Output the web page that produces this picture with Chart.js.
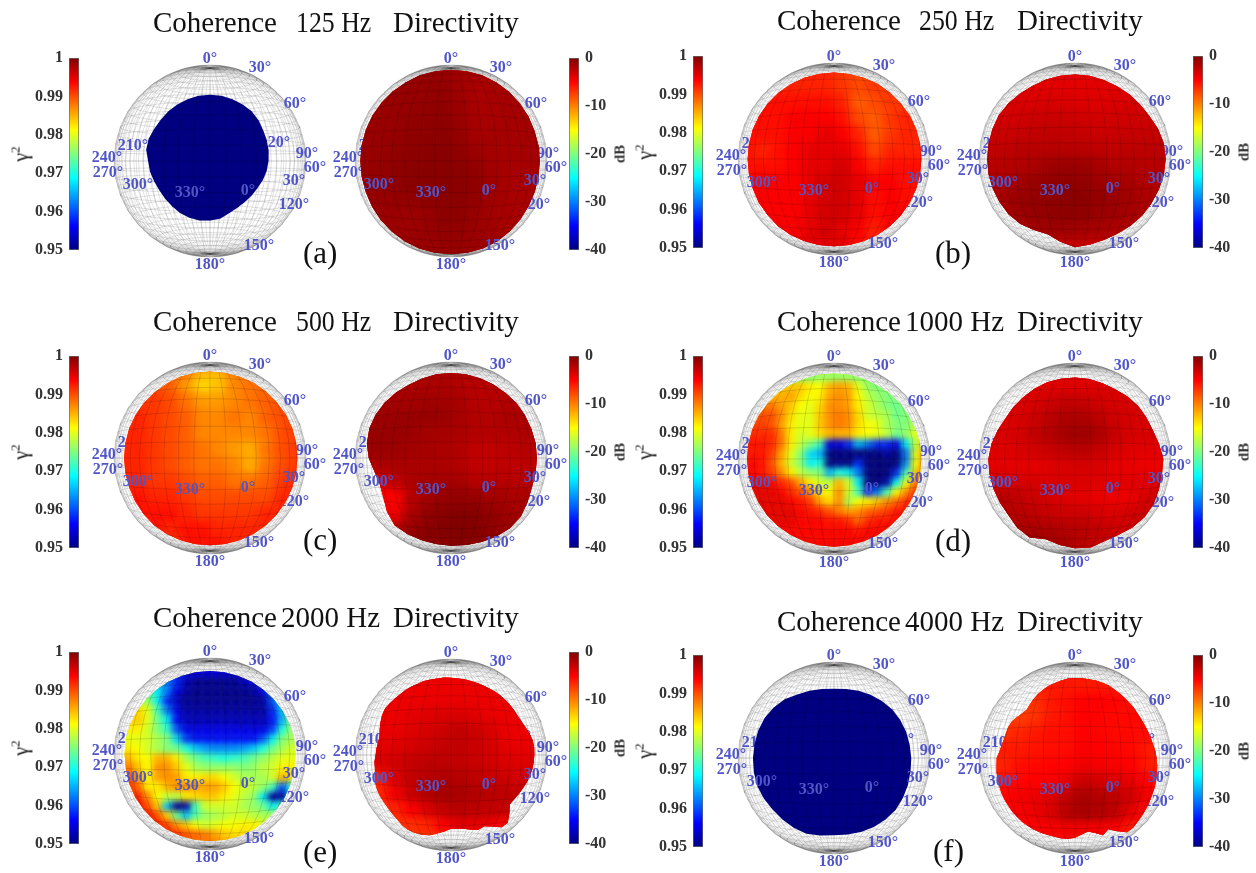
<!DOCTYPE html>
<html>
<head>
<meta charset="utf-8">
<title>Coherence and Directivity</title>
<script src="https://cdn.jsdelivr.net/npm/chart.js@4"></script>
<style>
  html, body { margin: 0; background: #fff; }
  body { position: relative; width: 1256px; height: 873px; overflow: hidden; font-family: "Liberation Serif", serif; }
  canvas { position: absolute; }
  .title, .letter, .cbname { position: absolute; white-space: pre; color: #111; }
  .title { font-size: 29px; line-height: 32px; }
  .title.short { transform: scaleX(0.89); transform-origin: left center; }
  .letter { font-size: 31px; line-height: 34px; }
  .cbname { transform: translate(-50%, -50%) rotate(-90deg); }
  .gamma { font-size: 20px; }
  .gamma sup { font-size: 13px; line-height: 0; }
  .db { font-size: 15px; font-weight: bold; color: #333; }
</style>
</head>
<body>
<script>
/* --------------------------------------------
   DATA: CATEGORIES AND TICKS
--------------------------------------------- */
const frequencies = ["125 Hz", "250 Hz", "500 Hz", "1000 Hz", "2000 Hz", "4000 Hz"];
const panelLetters = ["(a)", "(b)", "(c)", "(d)", "(e)", "(f)"];
const coherenceTicks = [0.95, 0.96, 0.97, 0.98, 0.99, 1];
const directivityTicks = [-40, -30, -20, -10, 0];
const sphereLabels = ["0°", "30°", "60°", "150°", "180°", "300°", "330°", "0°", "30°", "210°", "240°", "270°", "90°", "60°", "120°", "120°"];

/* --------------------------------------------
   DATA: SURFACE OUTLINES (radius, clockwise from the top)
--------------------------------------------- */
const outline125Coh = [.69,.69,.685,.68,.675,.66,.64,.63,.62,.61,.60,.585,.57,.565,.56,.565,.58,.61,.62,.63,.63,.625,.615,.61,.61,.62,.635,.645,.675,.68,.67,.67,.675,.68,.685,.69];
const outline125Dir = [.95,.95,.95,.945,.94,.935,.93,.925,.925,.925,.925,.93,.935,.945,.955,.965,.97,.97,.97,.97,.97,.965,.96,.955,.95,.945,.945,.945,.945,.945,.945,.945,.945,.945,.95,.95];
const outline250Coh = [.90,.90,.90,.905,.905,.905,.91,.91,.91,.91,.91,.91,.91,.91,.91,.91,.91,.91,.91,.91,.91,.91,.91,.905,.905,.90,.90,.90,.90,.90,.90,.90,.90,.90,.90,.90];
const outline250Dir = [.88,.88,.875,.875,.88,.885,.895,.92,.94,.945,.94,.93,.92,.915,.905,.895,.895,.905,.92,.875,.835,.855,.885,.90,.905,.91,.915,.915,.915,.915,.915,.905,.89,.88,.88,.88];
const outline500Coh = [.90,.90,.90,.905,.905,.905,.91,.91,.91,.91,.91,.91,.91,.91,.91,.91,.91,.91,.91,.91,.91,.91,.91,.905,.90,.895,.895,.895,.895,.895,.895,.895,.895,.895,.90,.90];
const outline500Dir = [.885,.885,.885,.885,.885,.89,.89,.89,.895,.895,.895,.897,.92,.95,.955,.945,.93,.92,.913,.91,.91,.913,.915,.87,.815,.79,.81,.857,.89,.905,.905,.90,.89,.88,.88,.885];
const outline1000Coh = [.89,.89,.89,.89,.895,.90,.90,.905,.91,.91,.91,.91,.91,.91,.912,.913,.913,.913,.913,.913,.913,.912,.91,.91,.908,.906,.906,.906,.906,.906,.905,.90,.90,.895,.89,.89];
const outline1000Dir = [.85,.845,.84,.84,.85,.86,.86,.865,.89,.92,.92,.93,.945,.945,.93,.91,.91,.935,.93,.91,.89,.945,.935,.907,.905,.904,.905,.903,.885,.86,.84,.84,.84,.845,.85,.85];
const outline2000Coh = [.865,.865,.865,.87,.87,.875,.88,.885,.89,.89,.89,.895,.90,.90,.905,.905,.906,.906,.906,.906,.906,.905,.905,.90,.90,.895,.89,.89,.89,.885,.88,.875,.87,.87,.865,.865];
const outline2000Dir = [.805,.80,.80,.797,.797,.80,.80,.803,.806,.806,.806,.806,.806,.815,.83,.85,.865,.87,.868,.865,.86,.85,.84,.825,.815,.805,.80,.86,.92,.92,.86,.82,.83,.805,.78,.77,.767,.80,.83,.865,.885,.895,.90,.89,.875,.865,.857,.855,.855,.85,.84,.82,.805,.80,.785,.78,.77,.77,.79,.81,.83,.84,.835,.83,.825,.825,.825,.82,.82,.815,.81,.81];
const outline4000Coh = [.722,.73,.745,.76,.775,.79,.795,.80,.80,.805,.81,.82,.83,.84,.835,.83,.82,.81,.805,.82,.84,.84,.835,.835,.845,.85,.848,.844,.84,.84,.835,.82,.80,.765,.745,.73];
const outline4000Dir = [.833,.833,.833,.835,.835,.832,.825,.818,.812,.808,.805,.80,.80,.803,.81,.817,.825,.84,.85,.86,.868,.875,.885,.89,.90,.91,.92,.93,.945,.945,.88,.82,.855,.81,.777,.80,.83,.845,.85,.847,.85,.857,.86,.862,.862,.86,.86,.855,.852,.848,.84,.835,.83,.82,.816,.79,.775,.765,.765,.767,.76,.74,.72,.712,.73,.75,.77,.785,.80,.81,.82,.83];

/* --------------------------------------------
   DATA: COHERENCE VALUES (rows from the top)
--------------------------------------------- */
const coherence250 = [
  [.992,.992,.992,.992,.992,.992,.991,.990,.990,.990,.990,.990],
  [.992,.992,.992,.992,.992,.992,.991,.990,.991,.991,.991,.991],
  [.993,.993,.993,.993,.993,.993,.992,.989,.990,.991,.991,.991],
  [.993,.993,.993,.994,.994,.994,.993,.990,.989,.991,.992,.992],
  [.993,.993,.993,.994,.994,.995,.994,.992,.989,.991,.992,.992],
  [.993,.992,.993,.994,.995,.995,.995,.993,.990,.992,.992,.992],
  [.993,.993,.993,.994,.995,.995,.996,.994,.992,.993,.993,.993],
  [.994,.994,.994,.994,.995,.996,.996,.995,.994,.994,.993,.993],
  [.994,.994,.994,.994,.995,.996,.996,.995,.993,.994,.993,.993],
  [.994,.994,.994,.994,.995,.996,.996,.995,.993,.994,.994,.994],
  [.994,.994,.994,.994,.995,.996,.995,.994,.992,.994,.994,.994],
  [.994,.994,.994,.994,.995,.995,.995,.993,.992,.994,.994,.994]
];
const coherence500 = [
  [.988,.988,.988,.988,.988,.985,.985,.988,.988,.988,.988,.988],
  [.991,.991,.990,.989,.986,.983,.984,.987,.988,.989,.990,.990],
  [.991,.991,.991,.990,.988,.986,.986,.987,.988,.989,.990,.990],
  [.992,.992,.991,.990,.989,.987,.987,.988,.987,.989,.990,.991],
  [.992,.992,.991,.990,.989,.987,.987,.987,.987,.988,.990,.991],
  [.992,.992,.991,.990,.989,.988,.987,.986,.985,.988,.990,.991],
  [.992,.992,.991,.990,.989,.988,.988,.987,.985,.988,.990,.991],
  [.992,.992,.991,.991,.990,.989,.989,.988,.988,.989,.991,.992],
  [.992,.993,.992,.992,.991,.990,.990,.990,.990,.990,.992,.992],
  [.992,.993,.993,.993,.992,.991,.991,.991,.991,.992,.992,.992],
  [.992,.992,.993,.992,.993,.993,.992,.992,.992,.992,.992,.992],
  [.992,.992,.992,.991,.993,.993,.993,.992,.992,.992,.992,.992]
];
const coherence1000 = [
  [.978,.978,.978,.978,.978,.978,.978,.978,.978,.978,.978,.978,.978,.978,.978,.978,.978,.978,.978,.978],
  [.975,.975,.975,.975,.975,.975,.975,.975,.976,.976,.976,.976,.975,.975,.975,.975,.975,.975,.975,.975],
  [.984,.984,.984,.984,.984,.984,.984,.982,.981,.985,.986,.985,.980,.976,.975,.975,.975,.975,.975,.975],
  [.985,.985,.985,.985,.985,.986,.983,.981,.982,.986,.987,.986,.981,.978,.976,.975,.975,.975,.975,.975],
  [.988,.988,.988,.988,.986,.984,.981,.980,.983,.987,.987,.986,.982,.979,.977,.975,.974,.975,.975,.975],
  [.990,.990,.990,.990,.987,.983,.980,.980,.984,.987,.988,.987,.983,.979,.978,.977,.974,.975,.976,.976],
  [.991,.991,.991,.990,.986,.982,.980,.980,.984,.987,.988,.987,.983,.981,.980,.977,.975,.975,.978,.978],
  [.992,.992,.992,.992,.988,.982,.979,.980,.983,.985,.985,.985,.982,.981,.980,.978,.974,.976,.980,.980],
  [.993,.993,.993,.992,.988,.982,.978,.975,.972,.955,.955,.958,.965,.962,.958,.958,.955,.968,.978,.985],
  [.993,.993,.993,.991,.986,.980,.975,.967,.965,.950,.950,.950,.950,.950,.950,.952,.950,.962,.980,.988],
  [.993,.994,.993,.990,.985,.979,.975,.968,.970,.950,.951,.950,.958,.950,.950,.950,.950,.963,.981,.989],
  [.994,.994,.993,.991,.987,.982,.978,.976,.975,.965,.970,.968,.962,.950,.950,.950,.958,.972,.984,.990],
  [.995,.995,.995,.994,.992,.990,.986,.982,.979,.978,.985,.979,.968,.950,.950,.952,.968,.980,.988,.992],
  [.995,.995,.995,.995,.994,.992,.990,.987,.982,.981,.987,.979,.972,.958,.962,.972,.981,.987,.992,.992],
  [.995,.995,.995,.995,.995,.994,.993,.991,.986,.983,.987,.977,.981,.982,.984,.987,.989,.992,.993,.993],
  [.995,.995,.995,.995,.995,.995,.994,.993,.992,.990,.988,.986,.987,.989,.990,.991,.993,.993,.993,.993],
  [.995,.995,.995,.995,.995,.995,.994,.994,.994,.993,.993,.992,.989,.992,.993,.993,.994,.994,.994,.994],
  [.994,.994,.994,.994,.994,.994,.994,.994,.994,.994,.994,.994,.993,.994,.994,.994,.994,.994,.994,.994],
  [.994,.994,.994,.994,.994,.994,.994,.994,.994,.994,.994,.994,.994,.994,.994,.994,.994,.994,.994,.994],
  [.994,.994,.994,.994,.994,.994,.994,.994,.994,.994,.994,.994,.994,.994,.994,.994,.994,.994,.994,.994]
];
const coherence2000 = [
  [.955,.955,.955,.955,.955,.955,.955,.955,.955,.955,.955,.955,.955,.955,.955,.955,.955,.955,.955,.955],
  [.955,.955,.955,.955,.955,.955,.955,.955,.955,.955,.955,.955,.955,.955,.955,.955,.955,.955,.955,.955],
  [.962,.962,.962,.962,.962,.962,.958,.953,.951,.951,.951,.951,.951,.953,.955,.960,.960,.960,.960,.960],
  [.972,.972,.972,.972,.968,.962,.955,.952,.951,.951,.951,.951,.951,.951,.952,.955,.962,.968,.970,.970],
  [.978,.978,.978,.976,.968,.958,.953,.951,.951,.951,.951,.951,.951,.951,.951,.952,.960,.968,.972,.972],
  [.983,.983,.983,.980,.972,.962,.955,.952,.952,.952,.952,.952,.952,.952,.952,.952,.958,.966,.974,.974],
  [.983,.983,.984,.980,.974,.968,.956,.953,.953,.953,.953,.953,.953,.953,.953,.953,.957,.965,.975,.975],
  [.982,.982,.982,.979,.975,.971,.960,.955,.955,.955,.955,.955,.955,.955,.955,.955,.959,.970,.976,.976],
  [.980,.980,.980,.979,.977,.975,.967,.959,.957,.957,.957,.957,.957,.957,.957,.960,.968,.975,.977,.978],
  [.982,.982,.981,.979,.977,.975,.974,.970,.966,.964,.963,.963,.963,.964,.966,.970,.974,.977,.979,.979],
  [.985,.985,.982,.981,.985,.985,.982,.977,.974,.972,.971,.970,.971,.972,.974,.976,.978,.980,.980,.980],
  [.988,.988,.984,.981,.987,.987,.984,.980,.977,.976,.976,.976,.976,.975,.976,.978,.979,.982,.982,.982],
  [.990,.990,.986,.981,.986,.987,.986,.982,.982,.983,.983,.981,.979,.977,.977,.977,.979,.985,.983,.983],
  [.992,.992,.989,.982,.982,.985,.987,.987,.986,.986,.986,.984,.981,.979,.978,.976,.972,.960,.970,.970],
  [.992,.992,.992,.987,.981,.978,.978,.982,.983,.984,.984,.982,.980,.978,.976,.968,.952,.952,.968,.968],
  [.994,.994,.994,.990,.984,.966,.951,.952,.972,.979,.979,.979,.979,.977,.976,.974,.968,.972,.972,.972],
  [.994,.994,.994,.994,.990,.984,.974,.966,.973,.976,.977,.978,.979,.979,.978,.977,.977,.977,.977,.977],
  [.994,.994,.994,.994,.993,.991,.987,.984,.981,.979,.980,.981,.981,.982,.982,.980,.980,.980,.980,.980],
  [.994,.994,.994,.994,.994,.993,.992,.990,.989,.988,.986,.984,.983,.983,.982,.982,.982,.982,.982,.982],
  [.992,.992,.992,.992,.992,.992,.992,.990,.988,.988,.988,.986,.986,.986,.986,.986,.986,.986,.986,.986]
];

/* --------------------------------------------
   DATA: DIRECTIVITY VALUES IN dB (rows from the top)
--------------------------------------------- */
const directivity125 = [
  [-1,-1,-1,-1,-1,-1,-1.4,-1.6,-1.6,-1.6,-1.6,-1.6],
  [-1,-1,-1,-1,-.9,-.8,-1.3,-1.7,-1.7,-1.6,-1.6,-1.6],
  [-1.1,-1.1,-1,-.9,-.8,-.7,-1.1,-1.7,-1.6,-1.6,-1.6,-1.6],
  [-1.1,-1.1,-1,-.8,-.7,-.6,-1,-1.6,-1.6,-1.5,-1.5,-1.5],
  [-1.1,-1,-.9,-.7,-.6,-.5,-.9,-1.5,-1.5,-1.5,-1.5,-1.5],
  [-1.1,-1,-.8,-.6,-.5,-.4,-.7,-1.1,-1.5,-1.5,-1.5,-1.5],
  [-1.1,-.9,-.7,-.5,-.4,-.4,-.5,-.8,-1.4,-1.6,-1.6,-1.6],
  [-1,-.9,-.7,-.5,-.4,-.4,-.5,-.7,-1.3,-1.6,-1.7,-1.7],
  [-1.1,-1,-.9,-.8,-.6,-.5,-.5,-.8,-1.3,-1.6,-1.7,-1.7],
  [-1.2,-1.2,-1.2,-1.2,-1,-.6,-.6,-1,-1.4,-1.6,-1.7,-1.7],
  [-1.2,-1.2,-1.3,-1.2,-1,-.8,-.8,-1.1,-1.4,-1.7,-1.7,-1.7],
  [-1.2,-1.2,-1.2,-1.2,-1.1,-1,-1,-1.2,-1.5,-1.6,-1.7,-1.7]
];
const directivity250 = [
  [-4,-4,-4,-4,-4,-4,-4,-4,-4,-4,-4,-4],
  [-4,-4,-4,-4,-4,-4,-4,-4,-4,-4,-4,-4],
  [-3.6,-3.6,-3.6,-3.6,-3.5,-3.6,-3.8,-3.8,-3.6,-3.5,-3.5,-3.5],
  [-3.3,-3.3,-3.2,-3,-3,-3,-3.2,-3.3,-3.2,-3.2,-3.2,-3.2],
  [-3,-3,-2.8,-2.6,-2.6,-2.6,-2.8,-3,-2.9,-2.8,-2.8,-2.8],
  [-2.6,-2.6,-2.3,-2.2,-2.2,-2.2,-2.3,-2.5,-2.5,-2.4,-2.4,-2.4],
  [-2.2,-2.2,-2,-1.7,-1.2,-1,-1.1,-1.6,-2,-2,-2.2,-2.2],
  [-2,-1.8,-1.3,-1,-.8,-.7,-.8,-1.2,-1.4,-1.6,-2,-2.2],
  [-2,-1.5,-1,-.8,-.6,-.5,-.5,-.8,-1.1,-1.4,-1.8,-2],
  [-2,-1.6,-1.1,-.9,-.7,-.6,-.7,-1,-1.2,-1.5,-2,-2.2],
  [-2.2,-2,-1.7,-1.4,-1.2,-1.2,-1.4,-1.6,-1.9,-2.1,-2.3,-2.3],
  [-3,-3,-3,-3,-2.8,-2.8,-2.9,-3,-3,-3,-3,-3]
];
const directivity500 = [
  [-1.8,-1.8,-1.8,-1.8,-1.8,-1.8,-1.8,-1.8,-1.8,-1.8,-1.8,-1.8],
  [-1.8,-1.8,-1.8,-1.8,-1.8,-1.8,-2,-2.2,-2.2,-2.2,-2.2,-2.2],
  [-1.6,-1.6,-1.5,-1.4,-1.3,-1.4,-1.7,-2.2,-2.2,-2,-2,-2],
  [-1.3,-1.2,-1.1,-1,-1,-1.1,-1.6,-2,-2,-1.8,-1.8,-1.8],
  [-1.2,-1,-1,-1.2,-1.5,-1.6,-1.8,-2,-2.1,-2,-1.9,-1.9],
  [-1.2,-1,-1.2,-1.4,-1.6,-1.8,-2,-2.6,-2.6,-2.4,-2.2,-2.2],
  [-1.8,-1.8,-1.7,-1.7,-1.7,-1.8,-2,-2.6,-2.6,-2.5,-2.4,-2.4],
  [-3.5,-3.5,-2.4,-1.8,-1.5,-1.5,-1.6,-2.2,-2.2,-2.2,-2.2,-2.2],
  [-5,-5,-5,-2.2,-1.4,-1,-.8,-1,-1.4,-1.6,-1.8,-1.8],
  [-5,-5,-4.5,-1.8,-.8,-.4,-.2,-.3,-.8,-1.3,-1.6,-1.7],
  [-3.5,-3,-2,-1,-.4,-.2,0,-.2,-.7,-1.2,-1.6,-1.7],
  [-2,-2,-1.5,-1,-.5,-.4,-.3,-.5,-.8,-1.2,-1.5,-1.6]
];
const directivity1000 = [
  [-4,-4,-4,-4,-4,-4,-4,-4,-4,-4,-4,-4],
  [-3.8,-3.8,-3.8,-3.8,-3.8,-3.8,-3.8,-3.8,-3.8,-3.8,-3.8,-3.8],
  [-3.6,-3.6,-3.6,-3.4,-3,-2.6,-2.8,-3.2,-3.5,-3.5,-3.5,-3.5],
  [-3.6,-3.6,-3.5,-3,-2.2,-1.8,-1.8,-2.4,-3.1,-3.4,-3.5,-3.5],
  [-3.6,-3.6,-3.3,-2.6,-2,-1.4,-1.2,-1.8,-2.8,-3.4,-3.5,-3.5],
  [-3.8,-3.8,-3.6,-3.2,-2.8,-2.4,-2.2,-2.8,-3.4,-3.8,-4,-4],
  [-4,-4,-4,-4,-3.8,-3.6,-3.4,-3.6,-4,-4.2,-4.4,-4.4],
  [-3.4,-3.4,-3.4,-3.5,-3.6,-3.6,-3.7,-3.8,-3.8,-3.8,-3.8,-3.6],
  [-2.2,-2.2,-2.6,-3,-3.4,-3.8,-4,-4.2,-4.4,-4.2,-3.4,-3],
  [-2,-2,-2.2,-2.5,-2.8,-3,-3,-3.4,-3.6,-3.2,-3,-2.8],
  [-2,-1.8,-1.6,-1.6,-1.8,-2,-2.2,-2.6,-3,-3,-3,-3],
  [-1.8,-1.5,-1.2,-1.1,-1.3,-1.8,-2.4,-2.8,-3,-3,-3,-3]
];
const directivity2000 = [
  [-4.3,-4.3,-4.3,-4.3,-4.3,-4.3,-4.3,-4.3,-4.3,-4.3,-4.3,-4.3],
  [-4.3,-4.3,-4.3,-4.3,-4.3,-4.3,-4.3,-4.3,-4.3,-4.3,-4.3,-4.3],
  [-4.3,-4.3,-4.3,-4.3,-4.3,-4.3,-4.3,-4.3,-4.3,-4.3,-4.3,-4.3],
  [-4.3,-4.3,-4.3,-4,-3.8,-3.6,-3.6,-3.9,-4.2,-4.3,-4.3,-4.3],
  [-4.2,-4.2,-4.2,-3.8,-3.4,-3,-2.6,-3,-3.6,-4.2,-4.3,-4.3],
  [-4,-4,-3.8,-3.4,-3,-2.7,-2.6,-2.9,-3.4,-4,-4.2,-4.2],
  [-3.8,-3.6,-3.2,-2.7,-2.4,-2.4,-2.6,-2.9,-3.2,-3.6,-3.8,-4],
  [-7,-6,-3.4,-2.6,-2.1,-1.9,-2.1,-2.4,-2.8,-3,-3.3,-3.6],
  [-7,-6.5,-4.5,-2.8,-1.9,-1.4,-1.6,-1.9,-2.2,-2.4,-2.8,-3.2],
  [-7,-7,-6.5,-5,-3.5,-2.6,-2.2,-2.4,-2.6,-2.8,-3.2,-4],
  [-7,-7,-7,-7,-6.5,-5,-3.8,-4,-4.5,-5.5,-7,-7],
  [-7,-7,-7,-7,-7.5,-7.5,-7,-6.5,-6,-6,-7,-7]
];
const directivity4000 = [
  [-6,-6,-6,-6,-6,-6,-6,-6,-6,-6,-6,-6],
  [-6,-6,-6,-6,-6,-6,-6,-6,-6,-6,-6,-6],
  [-7,-7,-7,-7,-6,-5.5,-5,-5,-5.2,-5.5,-5.5,-5.5],
  [-7,-7,-7.5,-7,-6,-5.6,-5,-5.2,-5.4,-5.4,-5.4,-5.4],
  [-6.5,-7,-6.5,-6,-5.6,-5.6,-5,-5.2,-5.4,-5.4,-5.5,-5.5],
  [-6,-6,-6,-5.8,-5.6,-5.5,-4.8,-5,-5.2,-5.4,-6,-6.5],
  [-6.5,-6.5,-5.6,-5.4,-5.2,-5,-4.4,-4.6,-4.8,-5,-6,-6.5],
  [-6,-5.6,-5.2,-5,-4.8,-4,-2.8,-3.2,-3.6,-4,-5,-6],
  [-5.6,-5,-4.6,-4.2,-3.6,-2.4,-1.6,-2,-2.4,-3.2,-4.5,-6],
  [-5.6,-5,-4.6,-4.2,-3.5,-2,-1.6,-1.8,-2.4,-4,-5.5,-6.5],
  [-6,-5.5,-5,-4.8,-4.6,-4.4,-4.4,-4.6,-5,-6,-6.5,-6.5],
  [-6,-6,-6,-6,-5.8,-5.8,-5.8,-6,-6.5,-6.5,-6.5,-6.5]
];

/* one entry per panel: [outline, values, value below every cell] */
const cohPanels = [
  [outline125Coh, null, 0.95], [outline250Coh, coherence250, 0.993], [outline500Coh, coherence500, 0.99],
  [outline1000Coh, coherence1000, 0.98], [outline2000Coh, coherence2000, 0.98], [outline4000Coh, null, 0.95]
];
const dirPanels = [
  [outline125Dir, directivity125, -1], [outline250Dir, directivity250, -2], [outline500Dir, directivity500, -1.5],
  [outline1000Dir, directivity1000, -3], [outline2000Dir, directivity2000, -4], [outline4000Dir, directivity4000, -5]
];

/* --------------------------------------------
   LAYOUT (pixels on the page)
--------------------------------------------- */
const UNIT = 96;            // sphere radius
const SPHERE_BOX = 280;     // canvas size around a sphere
const cohCentres = [[210, 161], [834, 159], [210, 458], [834, 459], [210, 754], [834, 758]];
const dirCentres = [[451, 161], [1075, 159], [451, 458], [1075, 459], [451, 755], [1075, 758]];
const cohBarX = [69, 693, 69, 693, 69, 693];
const dirBarX = [569, 1193, 569, 1193, 569, 1193];
const barTop = [58, 56, 356, 356, 652, 655];
const BAR_H = 192;
const titleCoherenceX = [153, 777, 153, 777, 153, 777];
const titleFrequencyX = [296, 919, 296, 905, 281, 905];
const titleDirectivityX = [393, 1017, 393, 1017, 393, 1017];
const titleTop = [6, 4, 305, 305, 601, 605];
const letterX = [303, 935, 303, 935, 303, 933];
const letterY = [236, 236, 523, 524, 835, 834];
const labelDx = [0, 50, 85, 49, 0, -72, -20, 38, 84, -77, -103, -102, 97, 105, 84, 65];
const labelDy = [-102, -93, -57, 85, 104, 24, 32, 30, 20, -15, -3, 12, -7, 7, 44, -18];
const labelsOnTop = 9;      // the first nine sit above the surface, the others behind it

/* --------------------------------------------
   HELPERS
--------------------------------------------- */
const clamp01 = (v) => Math.max(0, Math.min(1, v));

function jet(t) {
  const r = clamp01(1.5 - Math.abs(4 * t - 3));
  const g = clamp01(1.5 - Math.abs(4 * t - 2));
  const b = clamp01(1.5 - Math.abs(4 * t - 1));
  return `rgb(${Math.round(r * 255)},${Math.round(g * 255)},${Math.round(b * 255)})`;
}
const cohColor = (v) => jet((v - 0.95) / 0.05);
const dirColor = (v) => jet((v + 40) / 40);

// perspective view of the unit sphere, camera on the equator
const CAMERA = 4;
function project(latDeg, lonDeg) {
  const lat = latDeg * Math.PI / 180;
  const lon = lonDeg * Math.PI / 180;
  const k = Math.sqrt(CAMERA * CAMERA - 1) / (CAMERA - Math.cos(lat) * Math.cos(lon));
  return { x: k * Math.cos(lat) * Math.sin(lon), y: k * Math.sin(lat) };
}

// wire grid of the sphere; frontOnly keeps the near side
function meshPoints(step, frontOnly) {
  const pts = [];
  const visible = (lat, lon) => !frontOnly ||
    Math.cos(lat * Math.PI / 180) * Math.cos(lon * Math.PI / 180) > 1 / CAMERA;
  const push = (lat, lon) => pts.push(visible(lat, lon) ? project(lat, lon) : { x: null, y: null });
  for (let lon = -180; lon < 180; lon += step) {
    for (let lat = -90; lat <= 90; lat += 10) push(lat, lon);
    pts.push({ x: null, y: null });
  }
  for (let lat = -90 + step; lat < 90; lat += step) {
    for (let lon = -180; lon <= 180; lon += 10) push(lat, lon);
    pts.push({ x: null, y: null });
  }
  return pts;
}
const wireMesh = meshPoints(5, false);
const surfaceMesh = meshPoints(7.5, true);

function outlinePoints(radii) {
  const pts = radii.map((r, i) => {
    const a = i / radii.length * 2 * Math.PI;
    return { x: r * Math.sin(a), y: r * Math.cos(a) };
  });
  pts.push(pts[0]);
  return pts;
}

function tracePath(chart, ds) {
  const { x, y } = chart.scales;
  const ctx = chart.ctx;
  ctx.beginPath();
  ds.surfaceEdge.forEach((p, i) => {
    const px = x.getPixelForValue(p.x);
    const py = y.getPixelForValue(p.y);
    if (i === 0) ctx.moveTo(px, py); else ctx.lineTo(px, py);
  });
  ctx.closePath();
}

function drawSphereLabels(chart, from, to) {
  const { x, y } = chart.scales;
  const ctx = chart.ctx;
  ctx.save();
  ctx.font = 'bold 16px "Liberation Serif"';
  ctx.fillStyle = "#5055c8";
  ctx.textAlign = "center";
  ctx.textBaseline = "middle";
  for (let i = from; i < to; i++) {
    ctx.fillText(sphereLabels[i], x.getPixelForValue(labelDx[i] / UNIT), y.getPixelForValue(-labelDy[i] / UNIT));
  }
  ctx.restore();
}

/* --------------------------------------------
   PLUGIN: surface fill, clipping, sphere labels
--------------------------------------------- */
const surfacePlugin = {
  id: "surfacePlugin",
  beforeDatasetDraw(chart, args) {
    const ds = chart.data.datasets[args.index];
    if (ds.surfaceFill) {
      tracePath(chart, ds);
      chart.ctx.fillStyle = ds.surfaceFill;
      chart.ctx.fill();
    }
    if (ds.clipToSurface) {
      chart.ctx.save();
      tracePath(chart, ds);
      chart.ctx.clip();
      if (ds.blurPx) chart.ctx.filter = `blur(${ds.blurPx}px)`;
    }
  },
  afterDatasetDraw(chart, args) {
    const ds = chart.data.datasets[args.index];
    if (ds.clipToSurface) chart.ctx.restore();
    if (ds.isWire) drawSphereLabels(chart, labelsOnTop, sphereLabels.length);
  },
  afterDatasetsDraw(chart) {
    drawSphereLabels(chart, 0, labelsOnTop);
  }
};

/* --------------------------------------------
   SPHERE CHART
--------------------------------------------- */
function renderSphere(centre, panel, colorOf) {
  const [radii, rows, baseValue] = panel;
  const edge = outlinePoints(radii);
  const canvas = document.createElement("canvas");
  canvas.width = SPHERE_BOX;
  canvas.height = SPHERE_BOX;
  canvas.style.left = `${centre[0] - SPHERE_BOX / 2}px`;
  canvas.style.top = `${centre[1] - SPHERE_BOX / 2}px`;
  document.body.appendChild(canvas);

  const datasets = [
    { data: surfaceMesh, showLine: true, pointRadius: 0, borderColor: "rgba(0,0,0,0.28)", borderWidth: 0.5,
      order: 1, clipToSurface: true, surfaceEdge: edge },
    { data: edge, showLine: true, pointRadius: 0, borderWidth: 0, order: 3,
      surfaceFill: colorOf(baseValue), surfaceEdge: edge },
    { data: wireMesh, showLine: true, pointRadius: 0, borderColor: "rgba(70,70,70,0.30)", borderWidth: 0.5,
      order: 4, isWire: true }
  ];

  if (rows) {
    const n = rows.length;
    const cells = [];
    const colors = [];
    // later cells overlap earlier ones, so nudge the grid to keep each value centred
    const nudge = 0.2 * 2 / n;
    rows.forEach((row, r) => row.forEach((v, c) => {
      cells.push({ x: -1 + (c + 0.5) * 2 / n + nudge, y: 1 - (r + 0.5) * 2 / n - nudge });
      colors.push(colorOf(v));
    }));
    const cellPx = 2 * UNIT / n;
    datasets.push({ data: cells, pointStyle: "rect", pointRadius: cellPx, pointBorderWidth: 0,
      pointBackgroundColor: colors, showLine: false, order: 2, clipToSurface: true,
      surfaceEdge: edge, blurPx: cellPx / 3.2 });
  }

  const span = SPHERE_BOX / 2 / UNIT;
  new Chart(canvas, {
    type: "scatter",
    data: { datasets },
    options: {
      responsive: false,
      animation: false,
      layout: { padding: 0, autoPadding: false },
      events: [],
      plugins: { legend: { display: false }, tooltip: { enabled: false } },
      scales: {
        x: { type: "linear", min: -span, max: span, display: false },
        y: { type: "linear", min: -span, max: span, display: false }
      }
    },
    plugins: [surfacePlugin]
  });
}

/* --------------------------------------------
   COLOUR BAR CHART
--------------------------------------------- */
function jetGradient(context) {
  const area = context.chart.chartArea;
  if (!area) return "#800000";
  const g = context.chart.ctx.createLinearGradient(0, area.bottom, 0, area.top);
  [0, 0.125, 0.375, 0.625, 0.875, 1].forEach((t) => g.addColorStop(t, jet(t)));
  return g;
}

function renderColorbar(barX, top, ticks, side) {
  const labelRoom = side === "left" ? 45 : 40;
  const canvas = document.createElement("canvas");
  canvas.width = labelRoom + 11;
  canvas.height = BAR_H + 20;
  canvas.style.left = `${side === "left" ? barX - labelRoom : barX - 1}px`;
  canvas.style.top = `${top - 10}px`;
  document.body.appendChild(canvas);

  new Chart(canvas, {
    type: "bar",
    data: {
      labels: [""],
      datasets: [{
        data: [[ticks[0], ticks[ticks.length - 1]]],
        backgroundColor: jetGradient,
        borderColor: "#666",
        borderWidth: 1,
        borderSkipped: false,
        barPercentage: 1,
        categoryPercentage: 1
      }]
    },
    options: {
      responsive: false,
      animation: false,
      events: [],
      layout: { autoPadding: false, padding: side === "left" ? { top: 10, bottom: 10, right: 1 } : { top: 10, bottom: 10, left: 1 } },
      plugins: { legend: { display: false }, tooltip: { enabled: false } },
      scales: {
        x: { display: false },
        y: {
          position: side,
          min: ticks[0],
          max: ticks[ticks.length - 1],
          grid: { display: false, drawTicks: false },
          border: { display: false },
          afterFit: (axis) => { axis.width = labelRoom; axis.paddingTop = 0; axis.paddingBottom = 0; },
          afterBuildTicks: (axis) => { axis.ticks = ticks.map((value) => ({ value })); },
          ticks: {
            autoSkip: false,
            padding: 6,
            color: "#333",
            font: { family: "Liberation Serif", size: 16, weight: "bold" },
            callback: (value) => String(value)
          }
        }
      }
    }
  });
}

/* --------------------------------------------
   PAGE TEXT
--------------------------------------------- */
function addText(cls, text, left, top) {
  const el = document.createElement("div");
  el.className = cls;
  el.textContent = text;
  el.style.left = `${left}px`;
  el.style.top = `${top}px`;
  document.body.appendChild(el);
  return el;
}

/* --------------------------------------------
   INIT
--------------------------------------------- */
frequencies.forEach((freq, i) => {
  renderSphere(cohCentres[i], cohPanels[i], cohColor);
  renderSphere(dirCentres[i], dirPanels[i], dirColor);
  renderColorbar(cohBarX[i], barTop[i], coherenceTicks, "left");
  renderColorbar(dirBarX[i], barTop[i], directivityTicks, "right");

  addText("title", "Coherence", titleCoherenceX[i], titleTop[i]);
  addText(freq.length < 7 ? "title short" : "title", freq, titleFrequencyX[i], titleTop[i]);
  addText("title", "Directivity", titleDirectivityX[i], titleTop[i]);
  addText("letter", panelLetters[i], letterX[i], letterY[i]);

  const gamma = addText("cbname gamma", "", cohBarX[i] - 48, barTop[i] + 96);
  gamma.innerHTML = "γ<sup>2</sup>";
  addText("cbname db", "dB", dirBarX[i] + 51, barTop[i] + 96);
});
</script>
</body>
</html>
